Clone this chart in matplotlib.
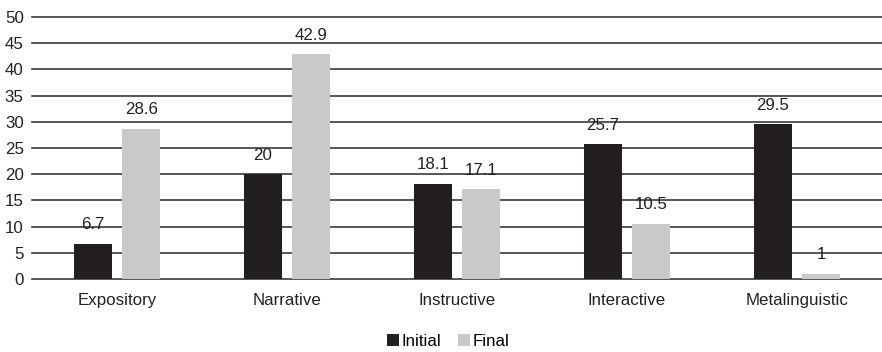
import numpy as np
import matplotlib
matplotlib.use('Agg')
import matplotlib.pyplot as plt
from matplotlib.patches import Patch

# ---- data ----
categories = ['Expository', 'Narrative', 'Instructive', 'Interactive', 'Metalinguistic']
initial = [6.7, 20, 18.1, 25.7, 29.5]
final = [28.6, 42.9, 17.1, 10.5, 1]
initial_labels = ['6.7', '20', '18.1', '25.7', '29.5']
final_labels = ['28.6', '42.9', '17.1', '10.5', '1']
yticks = [0, 5, 10, 15, 20, 25, 30, 35, 40, 45, 50]

DARK = '#231f20'
LIGHT = '#c8c9cb'
FS = 12.2

plt.rcParams['font.family'] = ['Liberation Sans', 'DejaVu Sans']

fig = plt.figure(figsize=(8.82, 3.52), dpi=100)
ax = fig.add_axes([32 / 882, 1 - 279 / 352, 850 / 882, 262 / 352])

x = np.arange(len(categories))
w = 0.224
off = 0.142

b1 = ax.bar(x - off, initial, w, color=DARK, zorder=3)
b2 = ax.bar(x + off, final, w, color=LIGHT, zorder=3)

# value labels above each bar
for bars, labels in ((b1, initial_labels), (b2, final_labels)):
    for b, lab in zip(bars, labels):
        ax.text(b.get_x() + b.get_width() / 2, b.get_height() + 2.8, lab,
                ha='center', va='baseline', fontsize=FS, color='#222222')

ax.set_xlim(-0.5, len(categories) - 0.5)
ax.set_ylim(0, 50)
ax.set_yticks(yticks)
ax.set_yticklabels([str(t) for t in yticks], fontsize=FS, color='#222222')
ax.set_xticks(x)
ax.set_xticklabels(categories, fontsize=FS, color='#222222')
ax.tick_params(axis='y', length=0, pad=6)
ax.tick_params(axis='x', length=0, pad=10)

for t in yticks:
    ax.axhline(t, color='#3a3a3a', lw=1.2, zorder=1, clip_on=False)

for s in ax.spines.values():
    s.set_visible(False)

handles = [Patch(facecolor=DARK, label='Initial'), Patch(facecolor=LIGHT, label='Final')]
fig.legend(handles=handles, loc='center', bbox_to_anchor=(448 / 882, 1 - 341 / 352),
           ncol=2, frameon=False, fontsize=FS, handlelength=0.7, handleheight=0.7,
           handletextpad=0.15, columnspacing=1.0)

fig.savefig('out.png', dpi=100)
